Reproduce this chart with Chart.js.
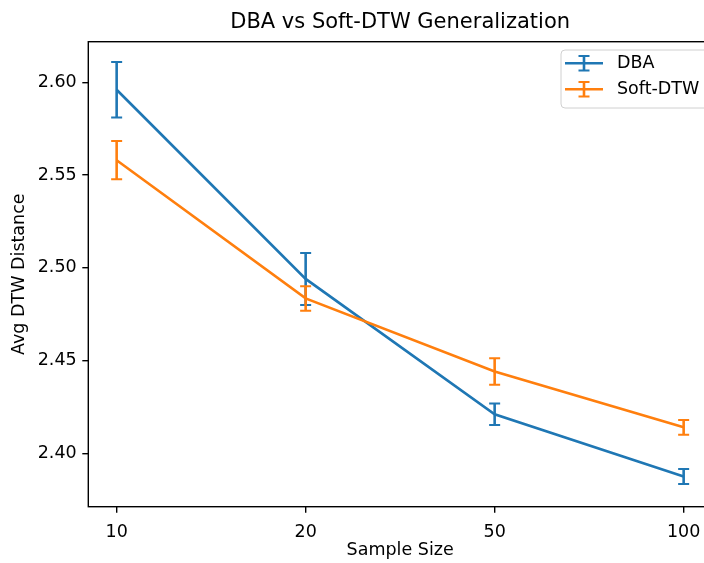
<!DOCTYPE html>
<html>
<head>
<meta charset="utf-8">
<script src="https://cdn.jsdelivr.net/npm/chart.js@4.4.1/dist/chart.umd.min.js"></script>
<style>
  html, body { margin: 0; padding: 0; background: #fff; overflow: hidden; }
  #wrap { width: 720px; height: 563px; }
</style>
</head>
<body>
<div id="wrap"><canvas id="chart" width="720" height="563"></canvas></div>
<script>
// values
var sampleSizes = ['10', '20', '50', '100'];
var dbaMean = [2.596, 2.494, 2.421, 2.3875];
var dbaErr = [0.015, 0.014, 0.0058, 0.004];
var softMean = [2.558, 2.4835, 2.4441, 2.414];
var softErr = [0.0103, 0.0066, 0.0071, 0.004];
var yTicks = [2.40, 2.45, 2.50, 2.55, 2.60];

var BLUE = '#1f77b4';
var ORANGE = '#ff7f0e';
var FONT = 'DejaVu Sans';

// turns a list of means into points along the index axis
var toPoints = function (values) {
    return values.map(function (v, i) { return { x: i, y: v }; });
};

// draws the error bars of one dataset
var errorBars = {
    id: 'errorBars',
    afterDatasetDraw: function (chart, args) {
        var ds = chart.data.datasets[args.index];
        var xs = chart.scales.x, ys = chart.scales.y;
        var ctx = chart.ctx;
        ctx.save();
        ctx.strokeStyle = ds.borderColor;
        ds.errors.forEach(function (e, i) {
            var px = xs.getPixelForValue(i);
            var top = ys.getPixelForValue(ds.data[i].y + e);
            var bot = ys.getPixelForValue(ds.data[i].y - e);
            ctx.lineWidth = 2.6;
            ctx.beginPath();
            ctx.moveTo(px, top);
            ctx.lineTo(px, bot);
            ctx.stroke();
            ctx.lineWidth = 2;
            ctx.beginPath();
            ctx.moveTo(px - 5.5, top); ctx.lineTo(px + 5.5, top);
            ctx.moveTo(px - 5.5, bot); ctx.lineTo(px + 5.5, bot);
            ctx.stroke();
        });
        ctx.restore();
    }
};

// frame, title and legend in matplotlib style
var decorations = {
    id: 'decorations',
    afterDraw: function (chart) {
        var a = chart.chartArea;
        var ctx = chart.ctx;
        ctx.save();
        ctx.strokeStyle = '#000';
        ctx.lineWidth = 1.4;
        ctx.strokeRect(a.left, a.top, a.right - a.left, a.bottom - a.top);

        ctx.fillStyle = '#000';
        ctx.font = '21px "' + FONT + '"';
        ctx.textAlign = 'center';
        ctx.textBaseline = 'alphabetic';
        ctx.fillText('DBA vs Soft-DTW Generalization', (a.left + a.right) / 2, 28.3);

        // legend box
        var lx = 561, ly = 50, lw = 160, lh = 58, r = 4;
        ctx.beginPath();
        ctx.roundRect(lx, ly, lw, lh, r);
        ctx.fillStyle = 'rgba(255,255,255,0.8)';
        ctx.fill();
        ctx.strokeStyle = '#d0d0d0';
        ctx.lineWidth = 1;
        ctx.stroke();

        chart.data.datasets.forEach(function (ds, i) {
            var y = 63.3 + i * 26;
            ctx.strokeStyle = ds.borderColor;
            ctx.lineWidth = 2.6;
            ctx.beginPath();
            ctx.moveTo(565, y); ctx.lineTo(603, y);
            ctx.moveTo(584, y - 7.3); ctx.lineTo(584, y + 7.3);
            ctx.stroke();
            ctx.lineWidth = 2;
            ctx.beginPath();
            ctx.moveTo(578.5, y - 7.3); ctx.lineTo(589.5, y - 7.3);
            ctx.moveTo(578.5, y + 7.3); ctx.lineTo(589.5, y + 7.3);
            ctx.stroke();
            ctx.fillStyle = '#000';
            ctx.font = '17.5px "' + FONT + '"';
            ctx.textAlign = 'left';
            ctx.textBaseline = 'middle';
            ctx.fillText(ds.label, 617, y);
        });
        ctx.restore();
    }
};

new Chart(document.getElementById('chart'), {
    type: 'line',
    data: {
        datasets: [{
            label: 'DBA',
            data: toPoints(dbaMean),
            errors: dbaErr,
            borderColor: BLUE,
            borderWidth: 2.6,
            pointRadius: 0,
            order: 2
        }, {
            label: 'Soft-DTW',
            data: toPoints(softMean),
            errors: softErr,
            borderColor: ORANGE,
            borderWidth: 2.6,
            pointRadius: 0,
            order: 1
        }]
    },
    options: {
        responsive: false,
        animation: false,
        devicePixelRatio: 1,
        layout: { padding: { top: 41.7, right: 8, left: 0, bottom: 0 } },
        plugins: { legend: { display: false }, tooltip: { enabled: false } },
        scales: {
            x: {
                type: 'linear',
                min: -0.15,
                max: 3.15,
                afterBuildTicks: function (scale) {
                    scale.ticks = sampleSizes.map(function (s, i) { return { value: i }; });
                },
                afterFit: function (scale) { scale.height = 56.3; },
                ticks: {
                    callback: function (v) { return sampleSizes[v]; },
                    color: '#000',
                    font: { family: FONT, size: 17.5 },
                    padding: 9,
                    maxRotation: 0
                },
                grid: { drawOnChartArea: false, tickLength: 6, color: '#000', lineWidth: 1.4 },
                border: { display: false },
                title: {
                    display: true,
                    text: 'Sample Size',
                    color: '#000',
                    font: { family: FONT, size: 17.5 },
                    padding: { top: 0, bottom: 2 }
                }
            },
            y: {
                min: 2.3712,
                max: 2.6219,
                afterBuildTicks: function (scale) {
                    scale.ticks = yTicks.map(function (v) { return { value: v }; });
                },
                afterFit: function (scale) { scale.width = 88.3; },
                ticks: {
                    callback: function (v) { return v.toFixed(2); },
                    color: '#000',
                    font: { family: FONT, size: 17.5 },
                    padding: 5.6
                },
                grid: { drawOnChartArea: false, tickLength: 6, color: '#000', lineWidth: 1.4 },
                border: { display: false },
                title: {
                    display: true,
                    text: 'Avg DTW Distance',
                    color: '#000',
                    font: { family: FONT, size: 17.5 },
                    padding: { top: 8.5, bottom: 0 }
                }
            }
        }
    },
    plugins: [errorBars, decorations]
});
</script>
</body>
</html>
